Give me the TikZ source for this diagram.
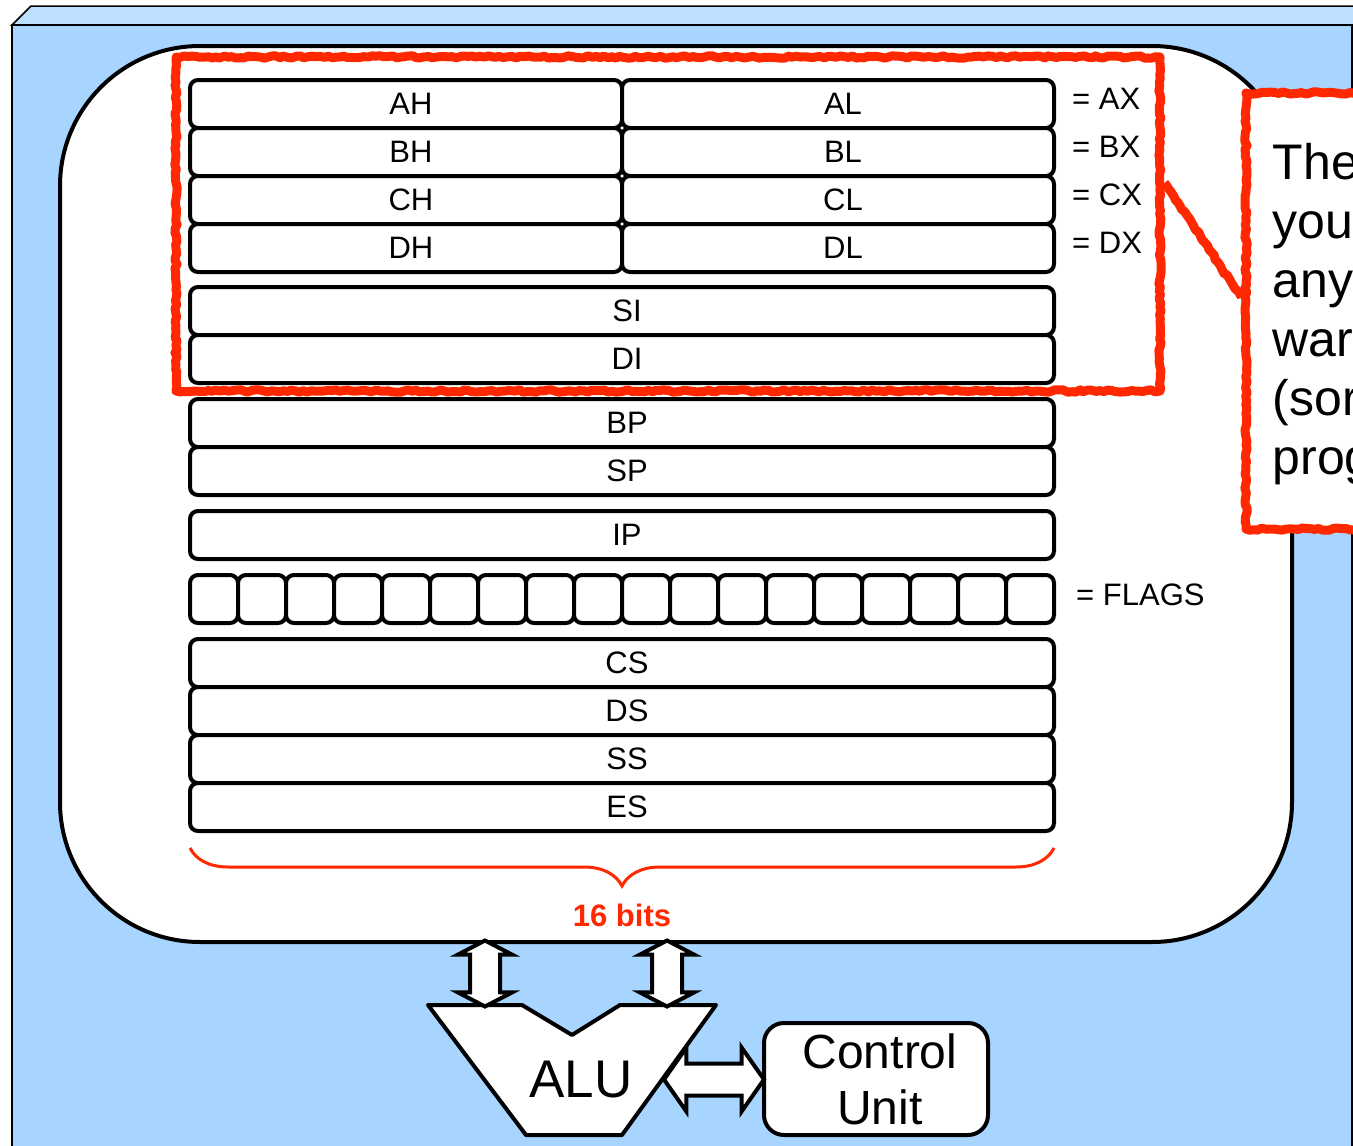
\documentclass[tikz,border=0pt]{standalone}
\usepackage{fontspec}
\setmainfont{Liberation Sans}
\usetikzlibrary{arrows.meta, positioning, calc, shapes.arrows, decorations.pathreplacing, decorations.pathmorphing}
\definecolor{slideblue}{RGB}{168,213,255}
\definecolor{slidetop}{RGB}{190,224,255}
\definecolor{markred}{RGB}{255,40,0}
\tikzset{
  reg/.style={draw, line width=4pt, fill=white, rounded corners=8pt, outer sep=0pt, inner sep=0pt,
    minimum height=48pt, font=\fontsize{31}{31}\selectfont, execute at begin node={\hspace*{10pt}}},
  fullreg/.style={reg, minimum width=864pt},
  halfreg/.style={reg, minimum width=432pt},
  flagbit/.style={reg, minimum width=48pt},
  pairname/.style={anchor=west, inner sep=0pt, font=\fontsize{31}{31}\selectfont},
  bus/.style={double arrow, draw, fill=white, line width=4pt, inner sep=0pt, line join=miter,
    double arrow head extend=12pt, double arrow tip angle=125},
  marker/.style={draw=markred, line width=9pt, line join=round, decorate,
    decoration={random steps, segment length=4pt, amplitude=1.2pt}},
}

\begin{document}
\begin{tikzpicture}[x=1pt, y=-1pt]
  \useasboundingbox (0,0) rectangle (1353,1146);
  \clip (0,0) rectangle (1353,1146);
  % slide background
  \fill[white] (0,0) rectangle (1353,1146);
  \draw[fill=slidetop, line width=1.5pt] (12,25) -- (31,6) -- (1400,6) -- (1400,25) -- cycle;
  \draw[fill=slideblue, line width=2.5pt] (12,1200) -- (12,25) -- (1352,25) -- (1352,1200);
  % register file
  \node[draw, line width=4pt, fill=white, rounded corners=140pt, outer sep=0pt,
    minimum width=1232pt, minimum height=896pt] (core) at (676,494) {};
  \node[halfreg] (ah) at (406,104) {AH};
  \node[halfreg] (al) at (838,104) {AL};
  \node[halfreg] (bh) at (406,152) {BH};
  \node[halfreg] (bl) at (838,152) {BL};
  \node[halfreg] (ch) at (406,200) {CH};
  \node[halfreg] (cl) at (838,200) {CL};
  \node[halfreg] (dh) at (406,248) {DH};
  \node[halfreg] (dl) at (838,248) {DL};
  \node[pairname] at ([xshift=18pt, yshift=5pt]al.east) {= AX};
  \node[pairname] at ([xshift=18pt, yshift=5pt]bl.east) {= BX};
  \node[pairname] at ([xshift=18pt, yshift=5pt]cl.east) {= CX};
  \node[pairname] at ([xshift=18pt, yshift=5pt]dl.east) {= DX};
  \node[fullreg] (si) at (622,311) {SI};
  \node[fullreg] (di) at (622,359) {DI};
  \node[fullreg] (bp) at (622,423) {BP};
  \node[fullreg] (sp) at (622,471) {SP};
  \node[fullreg] (ip) at (622,535) {IP};
  \foreach \i in {0,...,17}
    \node[flagbit] (f\i) at (214+48*\i,599) {};
  \node[pairname] at ([xshift=22pt, yshift=4pt]f17.east) {= FLAGS};
  \node[fullreg] (cs) at (622,663) {CS};
  \node[fullreg] (ds) at (622,711) {DS};
  \node[fullreg] (ss) at (622,759) {SS};
  \node[fullreg] (es) at (622,807) {ES};
  \draw[markred, line width=3pt, decorate, decoration={brace, mirror, amplitude=38pt}]
    ([yshift=-17pt]es.south west) -- ([yshift=-17pt]es.south east);
  \node[text=markred, font=\fontsize{31}{31}\selectfont\bfseries] (width) at ($(es.south)+(0,84)$) {16 bits};
  % highlight and note
  \node[marker, minimum width=984pt, minimum height=334pt] (hl) at (668,224) {};
  \node[marker, fill=white, minimum width=300pt, minimum height=436pt] (note) at (1396,311) {};
  \draw[marker] ($(hl.north east)!0.38!(hl.south east)$) -- ([yshift=13pt]note.west);
  \node[anchor=north west, align=left, inner sep=0pt, font=\fontsize{50}{59}\selectfont]
    (notetext) at ([xshift=31pt, yshift=-55pt]note.north west) {The\\you\\any\\war\\(sor\\prog};
  % ALU and control
  \draw[line width=4pt, fill=white, line join=round] (428,1005) -- (522,1005) -- (572,1035) -- (620,1005)
    -- (716,1005) -- (622,1135) -- (526,1135) -- cycle;
  \node[font=\fontsize{53}{53}\selectfont] (alu) at (581,1080) {ALU};
  \coordinate (aluinA) at (485,1005);
  \coordinate (aluinB) at (667,1005);
  \coordinate (aluout) at (664,1080);
  \node[draw, line width=4pt, fill=white, rounded corners=20pt, minimum width=224pt, minimum height=112pt,
    outer sep=0pt, align=center, font=\fontsize{48}{56}\selectfont] (cu) at (876,1079)
    {\hspace*{8pt}Control\\\hspace*{8pt}Unit};
  \node[bus, rotate=90, minimum height=66pt] (busA) at ($(aluinA)!0.5!(aluinA |- core.south)$) {\rule{0pt}{26pt}};
  \node[bus, rotate=90, minimum height=66pt] (busB) at ($(aluinB)!0.5!(aluinB |- core.south)$) {\rule{0pt}{26pt}};
  \node[bus, double arrow head extend=16pt, double arrow tip angle=110, minimum height=100pt] (busC)
    at ($(aluout)!0.5!(cu.west)$) {\rule{0pt}{28pt}};
\end{tikzpicture}
\end{document}
